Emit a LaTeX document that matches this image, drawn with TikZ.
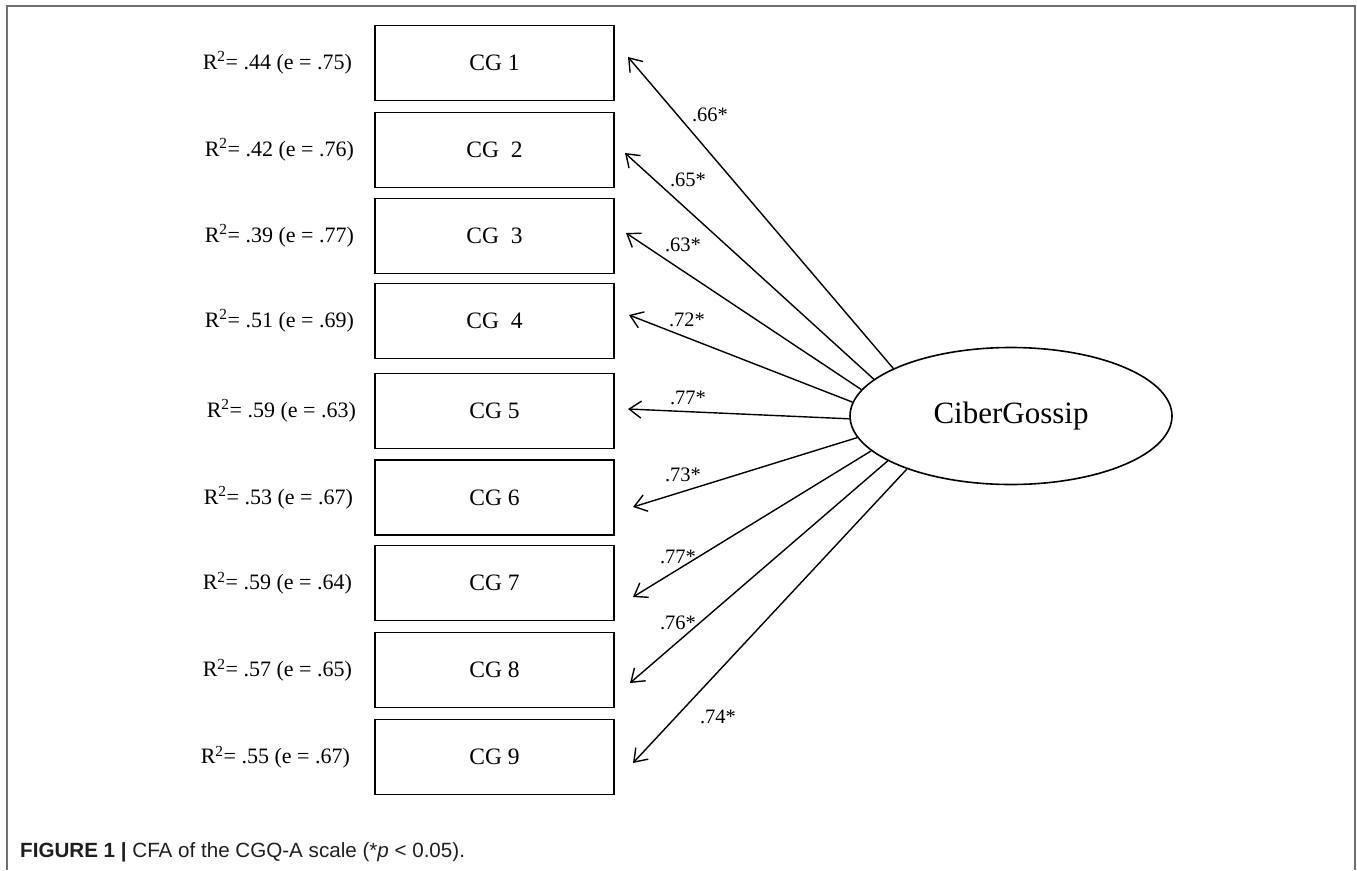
\documentclass[tikz,border=0pt]{standalone}
\usepackage{fontspec}
\setmainfont{Liberation Serif}
\newfontfamily\capfont{Liberation Sans}
\usepackage{tikz}
\usetikzlibrary{shapes.geometric,arrows.meta,positioning}
\definecolor{ink}{HTML}{000000}
\definecolor{rule}{HTML}{707070}
\definecolor{captext}{HTML}{1E1E1E}
\tikzset{
  item/.style={draw=ink, line width=1.8pt, minimum width=239pt, minimum height=75pt, inner sep=0pt, font=\fontsize{23.5}{25}\selectfont},
  latent/.style={ellipse, draw=ink, line width=1.6pt, minimum width=322pt, minimum height=137pt, inner sep=0pt, font=\fontsize{31}{33}\selectfont},
  load/.style={draw=ink, line width=1.4pt, -{Straight Barb[length=12pt,width=17pt,line width=1.4pt]}},
  rsq/.style={text=ink, font=\fontsize{22}{24}\selectfont, inner sep=0pt},
  coef/.style={text=ink, font=\fontsize{20.5}{22}\selectfont, inner sep=0pt},
  border/.style={draw=rule, line width=1.8pt},
}

\begin{document}
\begin{tikzpicture}[x=1pt,y=-1pt]
  \useasboundingbox (0,0) rectangle (1357,870);
  \draw[border] (7,870) -- (7,6) -- (1355,6) -- (1355,870);

  % indicators
  \node[item] (cg1) at (494.5,63) {CG 1};
  \node[item] (cg2) at (494.5,150) {CG\hspace{0.5em}2};
  \node[item] (cg3) at (494.5,236) {CG\hspace{0.5em}3};
  \node[item] (cg4) at (494.5,321) {CG\hspace{0.5em}4};
  \node[item] (cg5) at (494.5,411) {CG 5};
  \node[item] (cg6) at (494.5,497.5) {CG 6};
  \node[item] (cg7) at (494.5,583) {CG 7};
  \node[item] (cg8) at (494.5,670) {CG 8};
  \node[item] (cg9) at (494.5,757) {CG 9};

  \node[rsq,left=22pt of cg1] (r1) {R\textsuperscript{2}= .44 (e = .75)};
  \node[rsq,left=20pt of cg2] (r2) {R\textsuperscript{2}= .42 (e = .76)};
  \node[rsq,left=20pt of cg3] (r3) {R\textsuperscript{2}= .39 (e = .77)};
  \node[rsq,left=20pt of cg4] (r4) {R\textsuperscript{2}= .51 (e = .69)};
  \node[rsq,left=18pt of cg5] (r5) {R\textsuperscript{2}= .59 (e = .63)};
  \node[rsq,left=21pt of cg6] (r6) {R\textsuperscript{2}= .53 (e = .67)};
  \node[rsq,left=22pt of cg7] (r7) {R\textsuperscript{2}= .59 (e = .64)};
  \node[rsq,left=22pt of cg8] (r8) {R\textsuperscript{2}= .57 (e = .65)};
  \node[rsq,left=24pt of cg9] (r9) {R\textsuperscript{2}= .55 (e = .67)};

  % factor
  \node[latent] (gossip) at (1011,416) {CiberGossip};

  % arrow tips, right of the boxes
  \coordinate (t1) at (628,57);
  \coordinate (t2) at (625,153);
  \coordinate (t3) at (626,233);
  \coordinate (t4) at (629,315);
  \coordinate (t5) at (628,409);
  \coordinate (t6) at (633,507);
  \coordinate (t7) at (633,597);
  \coordinate (t8) at (630,683);
  \coordinate (t9) at (633,763);

  \draw[load] (gossip.158) -- (t1);
  \draw[load] (gossip.165) -- (t2);
  \draw[load] (gossip.170) -- (t3);
  \draw[load] (gossip.175) -- (t4);
  \draw[load] (gossip.181) -- (t5);
  \draw[load] (gossip.188) -- (t6);
  \draw[load] (gossip.194.5) -- (t7);
  \draw[load] (gossip.200) -- (t8);
  \draw[load] (gossip.207) -- (t9);

  \node[coef] (l1) at (710,115) {.66*};
  \node[coef] (l2) at (688,180) {.65*};
  \node[coef] (l3) at (683,245) {.63*};
  \node[coef] (l4) at (687,320) {.72*};
  \node[coef] (l5) at (688,398) {.77*};
  \node[coef] (l6) at (683,475) {.73*};
  \node[coef] (l7) at (678,557) {.77*};
  \node[coef] (l8) at (678,623) {.76*};
  \node[coef] (l9) at (718,717) {.74*};

  \node[anchor=west, text=captext, inner sep=0pt, font=\capfont\fontsize{20.6}{22}\selectfont] (cap) at (20,852)
    {\textbf{FIGURE 1 |} CFA of the CGQ-A scale (*\textit{p} < 0.05).};
\end{tikzpicture}
\end{document}
